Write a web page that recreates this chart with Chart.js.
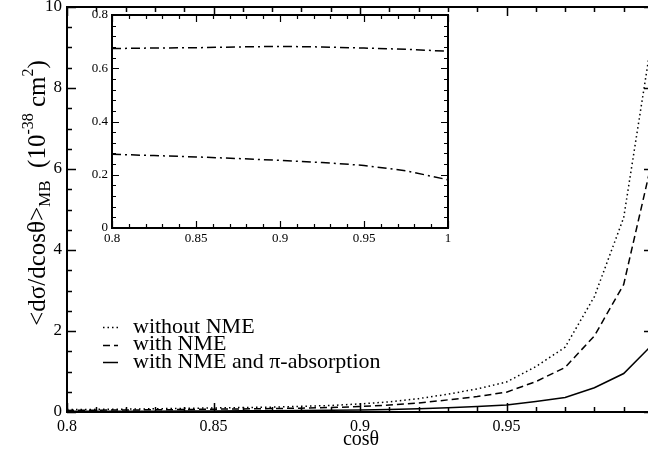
<!DOCTYPE html>
<html>
<head>
<meta charset="utf-8">
<script src="https://cdn.jsdelivr.net/npm/chart.js@4/dist/chart.umd.min.js"></script>
<style>
  body { margin: 0; overflow: hidden; background: #fff; }
  #wrap { position: relative; width: 648px; height: 458px; overflow: hidden; }
  #mainChart { position: absolute; left: 0; top: 0; }
  #insetChart { position: absolute; left: 70px; top: 0; }
</style>
</head>
<body>
<div id="wrap">
  <canvas id="mainChart" width="660" height="458"></canvas>
  <canvas id="insetChart" width="400" height="260"></canvas>
</div>
<script>
// cos theta values (x axis)
const cosTheta = [0.80, 0.81, 0.82, 0.83, 0.84, 0.85, 0.86, 0.87, 0.88, 0.89, 0.90,
                  0.91, 0.92, 0.93, 0.94, 0.95, 0.96, 0.97, 0.98, 0.99, 1.00];

// main panel series  (10^-38 cm^2)
const withoutNME = [0.06, 0.065, 0.07, 0.08, 0.09, 0.10, 0.11, 0.12, 0.14, 0.16, 0.20,
                    0.25, 0.33, 0.44, 0.57, 0.74, 1.12, 1.60, 2.85, 4.80, 9.40];
const withNME = [0.04, 0.045, 0.05, 0.055, 0.06, 0.07, 0.075, 0.085, 0.095, 0.11, 0.135,
                 0.17, 0.22, 0.30, 0.38, 0.49, 0.75, 1.10, 1.88, 3.15, 6.30];
const withNMEAbs = [0.017, 0.018, 0.019, 0.021, 0.024, 0.027, 0.03, 0.033, 0.037, 0.042, 0.05,
                    0.063, 0.082, 0.108, 0.138, 0.174, 0.26, 0.36, 0.60, 0.95, 1.68];

// inset series (ratios)
const insetX = [0.80, 0.825, 0.85, 0.875, 0.90, 0.925, 0.95, 0.975, 1.00];
const insetUpper = [0.674, 0.676, 0.677, 0.680, 0.682, 0.680, 0.676, 0.671, 0.664];
const insetLower = [0.277, 0.272, 0.267, 0.261, 0.254, 0.246, 0.235, 0.215, 0.181];

const legendLabels = ["without NME", "with NME", "with NME and \u03c0-absorption"];
const legendDashes = [[1.5, 3], [7, 4], []];

const serif = "'Liberation Serif', 'DejaVu Serif', serif";

function fmt(v) {
    return String(Number(v.toFixed(3)));
}

function toPoints(xs, ys) {
    return xs.map((x, i) => ({ x: x, y: ys[i] }));
}

// no extra room for the end labels, the plot box is placed by layout padding
function noPad(s) {
    s.paddingTop = 0; s.paddingBottom = 0;
    s.paddingLeft = 0; s.paddingRight = 0;
}

// draws the box and inward ticks on all four sides
function frameTicks(chart, opt) {
    const ctx = chart.ctx;
    const a = chart.chartArea;
    const xs = chart.scales.x, ys = chart.scales.y;
    ctx.save();
    ctx.strokeStyle = "#000";
    ctx.lineWidth = opt.lw;
    ctx.strokeRect(a.left, a.top, a.right - a.left, a.bottom - a.top);
    ctx.lineWidth = opt.tw;
    ctx.beginPath();
    for (let v = xs.min; v <= xs.max + 1e-9; v += opt.xMinor) {
        const k = Math.round((v - xs.min) / opt.xMinor);
        const len = (k % opt.xEvery === 0) ? opt.major : opt.minor;
        const px = Math.round(xs.getPixelForValue(v)) + 0.5;
        ctx.moveTo(px, a.bottom); ctx.lineTo(px, a.bottom - len);
        ctx.moveTo(px, a.top); ctx.lineTo(px, a.top + len);
    }
    for (let v = ys.min; v <= ys.max + 1e-9; v += opt.yMinor) {
        const k = Math.round((v - ys.min) / opt.yMinor);
        const len = (k % opt.yEvery === 0) ? opt.major : opt.minor;
        const py = Math.round(ys.getPixelForValue(v)) + 0.5;
        ctx.moveTo(a.left, py); ctx.lineTo(a.left + len, py);
        ctx.moveTo(a.right, py); ctx.lineTo(a.right - len, py);
    }
    ctx.stroke();
    ctx.restore();
}

const mainDecor = {
    id: "mainDecor",
    afterDraw(chart) {
        frameTicks(chart, { lw: 2, tw: 1.5, major: 9, minor: 5, xMinor: 0.01, xEvery: 5, yMinor: 0.5, yEvery: 4 });
        const ctx = chart.ctx;
        ctx.save();
        ctx.fillStyle = "#000";
        ctx.strokeStyle = "#000";

        // x title
        ctx.font = "20px " + serif;
        ctx.textAlign = "center";
        ctx.textBaseline = "alphabetic";
        ctx.fillText("cos\u03b8", 361, 445);

        // y title with sub/superscripts
        ctx.translate(45, 193);
        ctx.rotate(-Math.PI / 2);
        const parts = [
            { t: "<d\u03c3/dcos\u03b8>", s: 25, dy: 0 },
            { t: "MB", s: 17, dy: 5 },
            { t: "  (10", s: 25, dy: 0 },
            { t: "-38", s: 16, dy: -12 },
            { t: " cm", s: 25, dy: 0 },
            { t: "2", s: 16, dy: -12 },
            { t: ")", s: 25, dy: 0 }
        ];
        let total = 0;
        parts.forEach(p => { ctx.font = p.s + "px " + serif; total += ctx.measureText(p.t).width; });
        let x = -total / 2;
        ctx.textAlign = "left";
        parts.forEach(p => {
            ctx.font = p.s + "px " + serif;
            ctx.fillText(p.t, x, p.dy);
            x += ctx.measureText(p.t).width;
        });
        ctx.setTransform(1, 0, 0, 1, 0, 0);

        // legend
        ctx.font = "22px " + serif;
        ctx.textBaseline = "middle";
        ctx.lineWidth = 1.5;
        legendLabels.forEach((lab, i) => {
            const y = 327 + i * 17.5;
            ctx.setLineDash(legendDashes[i]);
            ctx.beginPath();
            ctx.moveTo(103, Math.round(y) + 0.5);
            ctx.lineTo(118, Math.round(y) + 0.5);
            ctx.stroke();
            ctx.setLineDash([]);
            ctx.fillText(lab, 133, y);
        });
        ctx.restore();
    }
};

const insetDecor = {
    id: "insetDecor",
    beforeDraw(chart) {
        const a = chart.chartArea;
        chart.ctx.save();
        chart.ctx.fillStyle = "#fff";
        chart.ctx.fillRect(a.left, a.top, a.right - a.left, a.bottom - a.top);
        chart.ctx.restore();
    },
    afterDraw(chart) {
        frameTicks(chart, { lw: 2, tw: 1.2, major: 7, minor: 4, xMinor: 0.01, xEvery: 5, yMinor: 0.04, yEvery: 5 });
    }
};

function lineSet(label, data, dash) {
    return {
        label: label,
        data: data,
        borderColor: "#000",
        borderWidth: 1.5,
        borderDash: dash,
        pointRadius: 0,
        tension: 0,
        fill: false
    };
}

new Chart(document.getElementById("mainChart").getContext("2d"), {
    type: "line",
    data: {
        datasets: [
            lineSet(legendLabels[0], toPoints(cosTheta, withoutNME), legendDashes[0]),
            lineSet(legendLabels[1], toPoints(cosTheta, withNME), legendDashes[1]),
            lineSet(legendLabels[2], toPoints(cosTheta, withNMEAbs), legendDashes[2])
        ]
    },
    options: {
        responsive: false,
        animation: false,
        devicePixelRatio: 1,
        layout: { padding: { left: 0, top: 7, right: 7, bottom: 0 } },
        plugins: { legend: { display: false }, tooltip: { enabled: false } },
        scales: {
            x: {
                type: "linear", min: 0.8, max: 1.0,
                grid: { display: false, drawTicks: false },
                border: { display: false },
                ticks: { stepSize: 0.05, padding: 5, color: "#000", font: { family: serif, size: 16 }, callback: fmt, maxRotation: 0, autoSkip: false },
                afterFit(s) { s.height = 46; noPad(s); }
            },
            y: {
                type: "linear", min: 0, max: 10,
                grid: { display: false, drawTicks: false },
                border: { display: false },
                ticks: { stepSize: 2, padding: 5, color: "#000", font: { family: serif, size: 17 }, callback: fmt },
                afterFit(s) { s.width = 67; noPad(s); }
            }
        }
    },
    plugins: [mainDecor]
});

new Chart(document.getElementById("insetChart").getContext("2d"), {
    type: "line",
    data: {
        datasets: [
            lineSet("upper", toPoints(insetX, insetUpper), [9, 4, 2, 4]),
            lineSet("lower", toPoints(insetX, insetLower), [9, 4, 2, 4])
        ]
    },
    options: {
        responsive: false,
        animation: false,
        devicePixelRatio: 1,
        layout: { padding: { left: 0, top: 15, right: 22, bottom: 0 } },
        plugins: { legend: { display: false }, tooltip: { enabled: false } },
        scales: {
            x: {
                type: "linear", min: 0.8, max: 1.0,
                grid: { display: false, drawTicks: false },
                border: { display: false },
                ticks: { stepSize: 0.05, padding: 3, color: "#000", font: { family: serif, size: 13 }, callback: fmt, maxRotation: 0, autoSkip: false },
                afterFit(s) { s.height = 32; noPad(s); }
            },
            y: {
                type: "linear", min: 0, max: 0.8,
                grid: { display: false, drawTicks: false },
                border: { display: false },
                ticks: { stepSize: 0.2, padding: 4, color: "#000", font: { family: serif, size: 13 }, callback: fmt },
                afterFit(s) { s.width = 42; noPad(s); }
            }
        }
    },
    plugins: [insetDecor]
});
</script>
</body>
</html>
